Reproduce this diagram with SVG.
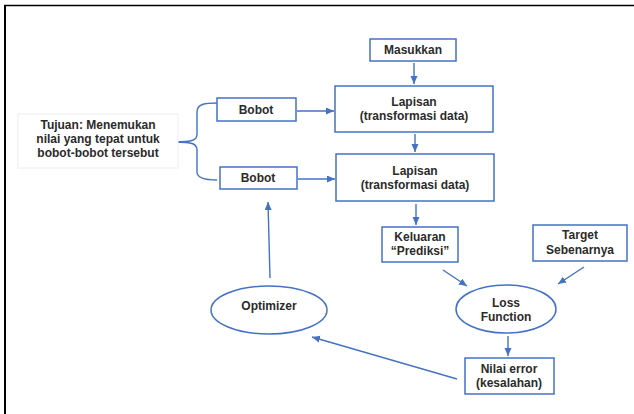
<svg xmlns="http://www.w3.org/2000/svg" width="634" height="414" viewBox="0 0 634 414">
<style>
.box{fill:#fff;stroke:#4472C4;stroke-width:1.5}
.ell{fill:#fff;stroke:#4472C4;stroke-width:1.5}
.t{font-family:"Liberation Sans",Arial,sans-serif;font-size:12px;font-weight:bold;fill:#2b2b2b;text-anchor:middle}
.c{fill:none;stroke:#4472C4;stroke-width:1.4}
</style>
<defs>
<marker id="ah" markerUnits="userSpaceOnUse" markerWidth="9" markerHeight="8" refX="8" refY="3.5" orient="auto">
<path d="M0,0 L8,3.5 L0,7 z" fill="#4472C4"/>
</marker>
</defs>
<rect x="0" y="0" width="634" height="414" fill="#fff"/>
<path d="M4,5.5 H634" stroke="#000" stroke-width="1.5"/>
<path d="M5,5 V414" stroke="#000" stroke-width="2"/>

<g id="connectors">
<path class="c" d="M414,63 V84" marker-end="url(#ah)"/>
<path class="c" d="M415,134 V152" marker-end="url(#ah)"/>
<path class="c" d="M416,204 V225" marker-end="url(#ah)"/>
<path class="c" d="M297,111 H334" marker-end="url(#ah)"/>
<path class="c" d="M298,179 H335" marker-end="url(#ah)"/>
<path class="c" d="M443,270 L467,286" marker-end="url(#ah)"/>
<path class="c" d="M584,267 L558,284" marker-end="url(#ah)"/>
<path class="c" d="M508,336 V356" marker-end="url(#ah)"/>
<path class="c" d="M457,379 L312,337" marker-end="url(#ah)"/>
<path class="c" d="M270,278 L268,202" marker-end="url(#ah)"/>
<path class="c" d="M217,103 C205,103 197,104 197,112 L197,134 C197,140 193,142 175,142 C193,142 197,144 197,150 L197,172 C197,178 205,180 217,180"/>
</g>

<g id="tujuan">
<rect x="18" y="114" width="160" height="54" fill="#fff" stroke="#eeeeee" stroke-width="1"/>
<text class="t" x="98" y="129">Tujuan: Menemukan</text>
<text class="t" x="98" y="143">nilai yang tepat untuk</text>
<text class="t" x="98" y="157">bobot-bobot tersebut</text>
</g>

<g id="masukkan">
<rect class="box" x="370" y="39" width="86" height="22"/>
<text class="t" x="413" y="54">Masukkan</text>
</g>

<g id="lapisan1">
<rect class="box" x="335" y="86" width="158" height="46"/>
<text class="t" x="414" y="106">Lapisan</text>
<text class="t" x="414" y="120">(transformasi data)</text>
</g>

<g id="lapisan2">
<rect class="box" x="336" y="154" width="158" height="47"/>
<text class="t" x="415" y="175">Lapisan</text>
<text class="t" x="415" y="189">(transformasi data)</text>
</g>

<g id="bobot1">
<rect class="box" x="217" y="98" width="79" height="23"/>
<text class="t" x="256" y="114">Bobot</text>
</g>

<g id="bobot2">
<rect class="box" x="220" y="167" width="77" height="22"/>
<text class="t" x="258" y="182">Bobot</text>
</g>

<g id="keluaran">
<rect class="box" x="382" y="227" width="76" height="35"/>
<text class="t" x="420" y="241">Keluaran</text>
<text class="t" x="420" y="255">“Prediksi”</text>
</g>

<g id="target">
<rect class="box" x="533" y="225" width="94" height="36"/>
<text class="t" x="580" y="239">Target</text>
<text class="t" x="580" y="254">Sebenarnya</text>
</g>

<g id="loss">
<ellipse class="ell" cx="506" cy="309" rx="50" ry="24"/>
<text class="t" x="506" y="307">Loss</text>
<text class="t" x="506" y="321">Function</text>
</g>

<g id="nilai">
<rect class="box" x="465" y="358" width="89" height="36"/>
<text class="t" x="509" y="373">Nilai error</text>
<text class="t" x="509" y="387">(kesalahan)</text>
</g>

<g id="optimizer">
<ellipse class="ell" cx="269" cy="310" rx="58" ry="24"/>
<text class="t" x="269" y="310">Optimizer</text>
</g>
</svg>
